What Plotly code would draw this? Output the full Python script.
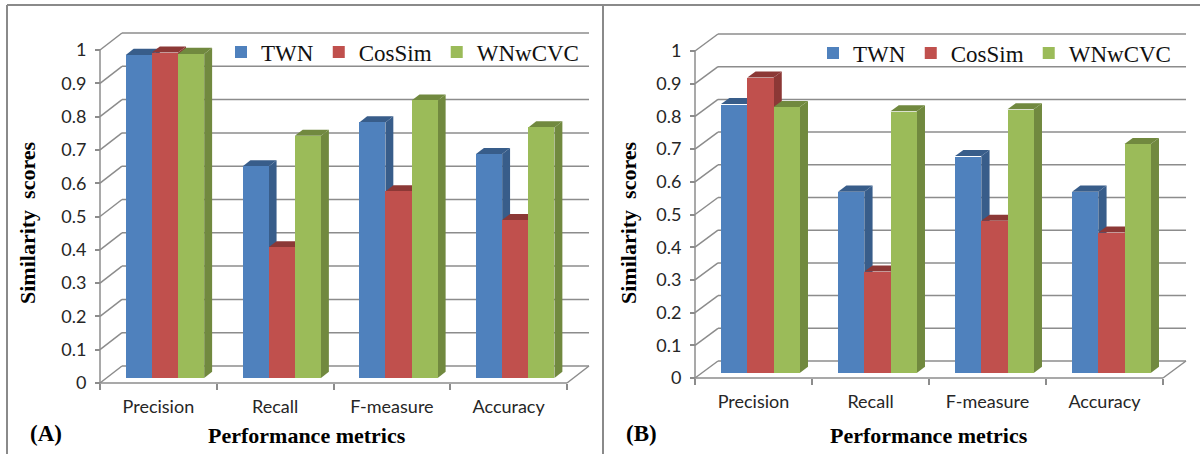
import plotly.graph_objects as go

# ---------------- data ----------------
categories = ["Precision", "Recall", "F-measure", "Accuracy"]
series_names = ["TWN", "CosSim", "WNwCVC"]

a_twn = [0.970, 0.635, 0.767, 0.672]
a_cossim = [0.977, 0.392, 0.560, 0.474]
a_wnwcvc = [0.973, 0.727, 0.833, 0.752]

b_twn = [0.822, 0.554, 0.663, 0.554]
b_cossim = [0.903, 0.310, 0.465, 0.429]
b_wnwcvc = [0.813, 0.800, 0.806, 0.700]

y_ticks = [0, 0.1, 0.2, 0.3, 0.4, 0.5, 0.6, 0.7, 0.8, 0.9, 1]
y_ticktext = ["0", "0.1", "0.2", "0.3", "0.4", "0.5", "0.6", "0.7", "0.8", "0.9", "1"]

# ---------------- style ----------------
W, H = 1200, 454
front_colors = ["#4F81BD", "#C0504D", "#9BBB59"]
dark_colors = ["#385D8A", "#8C3836", "#71893F"]
grid_col = "#8C8C8C"
border_col = "#8A8A8A"
tick_font = dict(family="Lato, Open Sans, sans-serif", size=18, color="#262626")
serif = "Liberation Serif, Times New Roman, serif"

# panel geometry (pixels): front axis origin, px per unit, depth offset
panels = [
    dict(name="A", vals=[a_twn, a_cossim, a_wnwcvc], x0=100, y0=383, sx=116.75, sy=333,
         ddx=22, ddy=17, xa="x", ya="y", legend="legend", lab="(A)", labx=46,
         titlex=27, xtitle=307, leg_x=221),
    dict(name="B", vals=[b_twn, b_cossim, b_wnwcvc], x0=695, y0=378, sx=117.0, sy=327,
         ddx=23, ddy=17, xa="x2", ya="y2", legend="legend2", lab="(B)", labx=641,
         titlex=628, xtitle=929, leg_x=813),
]

XR = (-0.62, 3.80)
YR = (-0.04, 1.09)

fig = go.Figure()
shapes = []
annotations = []
layout_axes = {}

for p in panels:
    dxu = p["ddx"] / p["sx"]
    dyu = p["ddy"] / p["sy"]
    # domains
    left_px = p["x0"] + (XR[0] + 0.5) * p["sx"]
    right_px = p["x0"] + (XR[1] + 0.5) * p["sx"]
    bot_px = p["y0"] - YR[0] * p["sy"]
    top_px = p["y0"] - YR[1] * p["sy"]
    xdom = [left_px / W, right_px / W]
    ydom = [(H - bot_px) / H, (H - top_px) / H]
    xa, ya = p["xa"], p["ya"]
    xkey = "xaxis" if xa == "x" else "xaxis2"
    ykey = "yaxis" if ya == "y" else "yaxis2"
    layout_axes[xkey] = dict(
        domain=xdom, range=list(XR), anchor="free", position=(H - p["y0"]) / H,
        showgrid=False, zeroline=False, showline=False,
        tickmode="array", tickvals=list(range(len(categories))), ticktext=categories,
        ticks="", tickfont=tick_font, ticklabelstandoff=11,
        minor=dict(tickmode="array", tickvals=[i - 0.5 for i in range(len(categories) + 1)],
                   ticks="outside", ticklen=6, tickwidth=1.5, tickcolor=grid_col, showgrid=False),
        fixedrange=True,
    )
    layout_axes[ykey] = dict(
        domain=ydom, range=list(YR), anchor="free", position=p["x0"] / W,
        showgrid=False, zeroline=False, showline=False,
        tickmode="array", tickvals=y_ticks, ticktext=y_ticktext,
        ticks="outside", ticklen=5, tickwidth=1.5, tickcolor=grid_col,
        tickfont=tick_font, ticklabelstandoff=5, fixedrange=True,
    )
    line = dict(color=grid_col, width=1.5)
    # back wall gridlines + side wall diagonals
    for v in y_ticks:
        shapes.append(dict(type="line", xref=xa, yref=ya, x0=-0.5, y0=v, x1=-0.5 + dxu, y1=v + dyu,
                           line=line, layer="below"))
        shapes.append(dict(type="line", xref=xa, yref=ya, x0=-0.5 + dxu, y0=v + dyu,
                           x1=len(categories) - 0.5 + dxu, y1=v + dyu, line=line, layer="below"))
    # floor front edge, right edge, front vertical axis
    n = len(categories)
    shapes.append(dict(type="line", xref=xa, yref=ya, x0=-0.5, y0=0, x1=n - 0.5, y1=0, line=line, layer="below"))
    shapes.append(dict(type="line", xref=xa, yref=ya, x0=n - 0.5, y0=0, x1=n - 0.5 + dxu, y1=dyu,
                       line=line, layer="below"))
    shapes.append(dict(type="line", xref=xa, yref=ya, x0=-0.5, y0=0, x1=-0.5, y1=1, line=line, layer="below"))

    # bars
    w = 0.224
    fz = 0.30  # depth fraction of bar front face
    bd = 0.36  # bar depth fraction
    shift_x = fz * dxu
    base = fz * dyu
    bdx, bdy = bd * dxu, bd * dyu
    for k, (vals, nm) in enumerate(zip(p["vals"], series_names)):
        off = -1.5 * w + k * w + shift_x
        # side and top faces (drawn under front faces)
        for i, v in enumerate(vals):
            xl = i + off
            xr = xl + w
            top = v + base
            side = f"M{xr},{base} L{xr},{top} L{xr + bdx},{top + bdy} L{xr + bdx},{base + bdy} Z"
            topf = f"M{xl},{top} L{xr},{top} L{xr + bdx},{top + bdy} L{xl + bdx},{top + bdy} Z"
            shapes.append(dict(type="path", xref=xa, yref=ya, path=side, fillcolor=dark_colors[k],
                               line=dict(width=0), layer="below"))
            shapes.append(dict(type="path", xref=xa, yref=ya, path=topf, fillcolor=dark_colors[k],
                               line=dict(width=0), layer="below"))
        fig.add_trace(go.Bar(
            x=list(range(n)), y=vals, base=base, width=w, offset=off,
            marker=dict(color=front_colors[k], line=dict(width=0)),
            name=nm, xaxis=xa, yaxis=ya, legend=p["legend"], showlegend=True,
        ))

    # texts
    annotations.append(dict(text="<b>Similarity  scores</b>", xref="paper", yref="paper",
                            x=p["titlex"] / W, y=(H - 223) / H, textangle=-90, showarrow=False,
                            font=dict(family=serif, size=22, color="black"),
                            xanchor="center", yanchor="middle"))
    annotations.append(dict(text="<b>Performance metrics</b>", xref="paper", yref="paper",
                            x=p["xtitle"] / W, y=(H - 435) / H, showarrow=False,
                            font=dict(family=serif, size=22, color="black"),
                            xanchor="center", yanchor="middle"))
    annotations.append(dict(text=f"<b>{p['lab']}</b>", xref="paper", yref="paper",
                            x=p["labx"] / W, y=(H - 433) / H, showarrow=False,
                            font=dict(family=serif, size=23, color="black"),
                            xanchor="center", yanchor="middle"))

# frame lines
bl = dict(color=border_col, width=2)
shapes.append(dict(type="line", xref="paper", yref="paper", x0=7 / W, y0=(H - 5) / H, x1=1, y1=(H - 5) / H, line=bl))
shapes.append(dict(type="line", xref="paper", yref="paper", x0=7 / W, y0=(H - 5) / H, x1=7 / W, y1=0, line=bl))
shapes.append(dict(type="line", xref="paper", yref="paper", x0=603 / W, y0=(H - 5) / H, x1=603 / W, y1=0, line=bl))

leg_common = dict(orientation="h", xanchor="left", yanchor="middle", bgcolor="rgba(0,0,0,0)",
                  font=dict(family="Liberation Serif", size=23, color="#111111"), itemwidth=30,
                  traceorder="normal", tracegroupgap=0)
fig.update_layout(
    width=W, height=H, margin=dict(l=0, r=0, t=0, b=0),
    paper_bgcolor="white", plot_bgcolor="rgba(0,0,0,0)",
    barmode="overlay", bargap=0,
    shapes=shapes, annotations=annotations,
    legend=dict(x=panels[0]["leg_x"] / W, y=(H - 52) / H, **leg_common),
    legend2=dict(x=panels[1]["leg_x"] / W, y=(H - 53) / H, **leg_common),
    **layout_axes,
)

fig.write_html("out.html")
